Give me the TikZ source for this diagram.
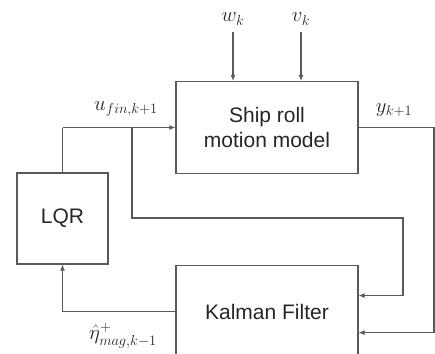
\documentclass[tikz,border=0pt]{standalone}
\usepackage{amsmath}
\usepackage{fontspec}
\setsansfont{Liberation Sans}
\usetikzlibrary{arrows.meta,positioning,calc}

\begin{document}
\begin{tikzpicture}[x=1pt, y=-1pt,
  block/.style={draw=black!65, line width=1.1pt, minimum width=182pt, minimum height=92pt, align=center, font=\sffamily\fontsize{21}{25}\selectfont, text=black!85},
  ctrl/.style={block, minimum width=91pt, minimum height=91pt},
  sig/.style={font=\fontsize{19.5}{22}\selectfont, text=black!85, inner sep=1pt},
  arrow/.style={-{Latex[length=6pt,width=5pt]}, draw=black!65, line width=1.1pt},
  line/.style={draw=black!65, line width=1.1pt},
]
\useasboundingbox (0,0) rectangle (435,353);

% blocks
\node[block] (ship) at (267,127.5) {Ship roll\\motion model};
\node[block, below=91pt of ship] (kf) {Kalman Filter};
\node[ctrl] (lqr) at (62.5,218.5) {LQR};

% signals
\node[sig] (wk) at (233,19) {$w_k$};
\node[sig] (vk) at (301,19) {$v_k$};
\node[sig] (ulab) at (126,109) {$u_{fin,k+1}$};
\node[sig] (ylab) at (394,110) {$y_{k+1}$};
\node[sig] (etalab) at (123,336) {$\hat{\eta}^{+}_{mag,k-1}$};

\coordinate (ucorner) at (lqr.north |- ship.west);
\coordinate (usplit) at (132,127.5);
\coordinate (kfin1) at ($(kf.east)+(0,-16)$);
\coordinate (kfin2) at ($(kf.east)+(0,21)$);

% disturbances
\draw[arrow, shorten <=6pt] (wk) -- (wk |- ship.north);
\draw[arrow, shorten <=6pt] (vk) -- (vk |- ship.north);

% control loop
\draw[line] (lqr.north) -- (ucorner);
\draw[arrow] (ucorner) -- (ship.west);
\draw[arrow] (usplit) |- (403,218) |- (kfin1);
\draw[arrow] (ship.east) -- (434,127.5) |- (kfin2);
\draw[arrow] (kf.west) -| (lqr.south);

\end{tikzpicture}
\end{document}
